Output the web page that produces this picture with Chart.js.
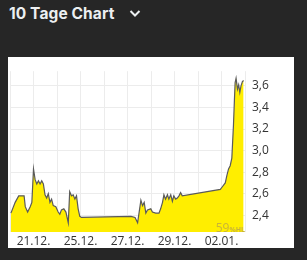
<!DOCTYPE html>
<html>
<head>
<meta charset="utf-8">
<script src="https://cdn.jsdelivr.net/npm/chart.js@4/dist/chart.umd.min.js"></script>
<style>
    html, body { margin: 0; padding: 0; background: #262626; width: 307px; height: 260px; overflow: hidden; }
    .title { position: absolute; left: 9px; top: 4px; color: #eceff1; font: bold 15.5px Inter, "Open Sans", sans-serif; letter-spacing: 0.1px; }
    .chev { position: absolute; left: 129px; top: 9px; }
    .panel { position: absolute; left: 8px; top: 57px; width: 286px; height: 191px; background: #fff; }
    .panel canvas { position: absolute; left: 0; top: 0; }
    .mark { position: absolute; right: 49px; top: 162px; color: #c9b437; font: 12px "Open Sans", sans-serif; }
    .mark small { font-size: 7px; font-weight: bold; }
</style>
</head>
<body>
<div class="title">10 Tage Chart</div>
<svg class="chev" width="12" height="9"><polyline points="1.5,2 6,6.5 10.5,2" fill="none" stroke="#eceff1" stroke-width="2"/></svg>
<div class="panel">
    <canvas id="chart10Tage" width="286" height="191"></canvas>
    <div class="mark">59<small>%HL</small></div>
</div>
<script>
// position in day slots (0..10), price in EUR
var slots = [0.04, 0.22, 0.37, 0.51, 0.60, 0.65, 0.75, 0.86, 0.93, 1.00,
    1.07, 1.14, 1.21, 1.28, 1.35, 1.42, 1.49, 1.56, 1.63, 1.70,
    1.77, 1.84, 1.95, 2.05, 2.12, 2.19, 2.29, 2.38, 2.48, 2.54,
    2.62, 2.69, 2.76, 2.83, 2.90, 2.97, 3.04, 5.15, 5.32, 5.43,
    5.57, 5.64, 5.71, 5.78, 5.85, 5.99, 6.06, 6.20, 6.34, 6.41,
    6.49, 6.55, 6.62, 6.70, 6.76, 6.84, 6.91, 6.97, 7.05, 7.12,
    7.19, 7.26, 7.33, 8.95, 9.02, 9.16, 9.23, 9.30, 9.37, 9.44,
    9.51, 9.55, 9.58, 9.62, 9.68, 9.73, 9.78, 9.83, 9.89, 9.94];
var prices = [2.42, 2.52, 2.58, 2.58, 2.58, 2.48, 2.43, 2.48, 2.52, 2.83,
    2.73, 2.69, 2.72, 2.69, 2.72, 2.69, 2.59, 2.56, 2.60, 2.52,
    2.55, 2.49, 2.48, 2.43, 2.41, 2.45, 2.46, 2.43, 2.33, 2.62,
    2.58, 2.59, 2.55, 2.58, 2.46, 2.39, 2.38, 2.39, 2.38, 2.33,
    2.54, 2.49, 2.52, 2.42, 2.45, 2.46, 2.43, 2.42, 2.42, 2.46,
    2.52, 2.59, 2.55, 2.59, 2.55, 2.59, 2.53, 2.58, 2.55, 2.56,
    2.58, 2.61, 2.58, 2.64, 2.66, 2.70, 2.77, 2.83, 2.86, 2.93,
    3.24, 3.47, 3.63, 3.67, 3.57, 3.61, 3.54, 3.60, 3.64, 3.65];
var dateLabels = ['', '21.12.', '', '25.12.', '', '27.12.', '', '29.12.', '', '02.01.', ''];
var priceTicks = [2.4, 2.6, 2.8, 3.0, 3.2, 3.4, 3.6];

var points = slots.map(function(s, i) { return { x: s, y: prices[i] }; });

new Chart(document.getElementById('chart10Tage'), {
    type: 'line',
    data: { datasets: [{
        data: points,
        borderColor: '#5a5a5a',
        borderWidth: 1.2,
        backgroundColor: '#ffee00',
        fill: 'start',
        tension: 0,
        pointRadius: 0
    }] },
    options: {
        responsive: false, animation: false,
        layout: { padding: 0 },
        plugins: { legend: { display: false }, tooltip: { enabled: false } },
        scales: {
            x: {
                type: 'linear', min: 0, max: 10,
                afterBuildTicks: function(sc) { sc.ticks = dateLabels.map(function(_, i) { return { value: i }; }); },
                afterFit: function(sc) { sc.height = 16; },
                grid: { color: '#ececec', drawTicks: false },
                border: { display: false },
                ticks: { autoSkip: false, maxRotation: 0, padding: 2, color: '#333', font: { family: 'Open Sans', size: 12 },
                    callback: function(v) { return dateLabels[v] || ''; } }
            },
            y: {
                position: 'right', min: 2.245, max: 3.736,
                afterBuildTicks: function(sc) { sc.ticks = priceTicks.map(function(v) { return { value: v }; }); },
                afterFit: function(sc) { sc.width = 49; },
                grid: { color: '#ececec', drawTicks: false },
                border: { display: false },
                ticks: { padding: 7, color: '#333', font: { family: 'Open Sans', size: 12 },
                    callback: function(v) { return v.toFixed(1).replace('.', ','); } }
            }
        }
    }
});
</script>
</body>
</html>
